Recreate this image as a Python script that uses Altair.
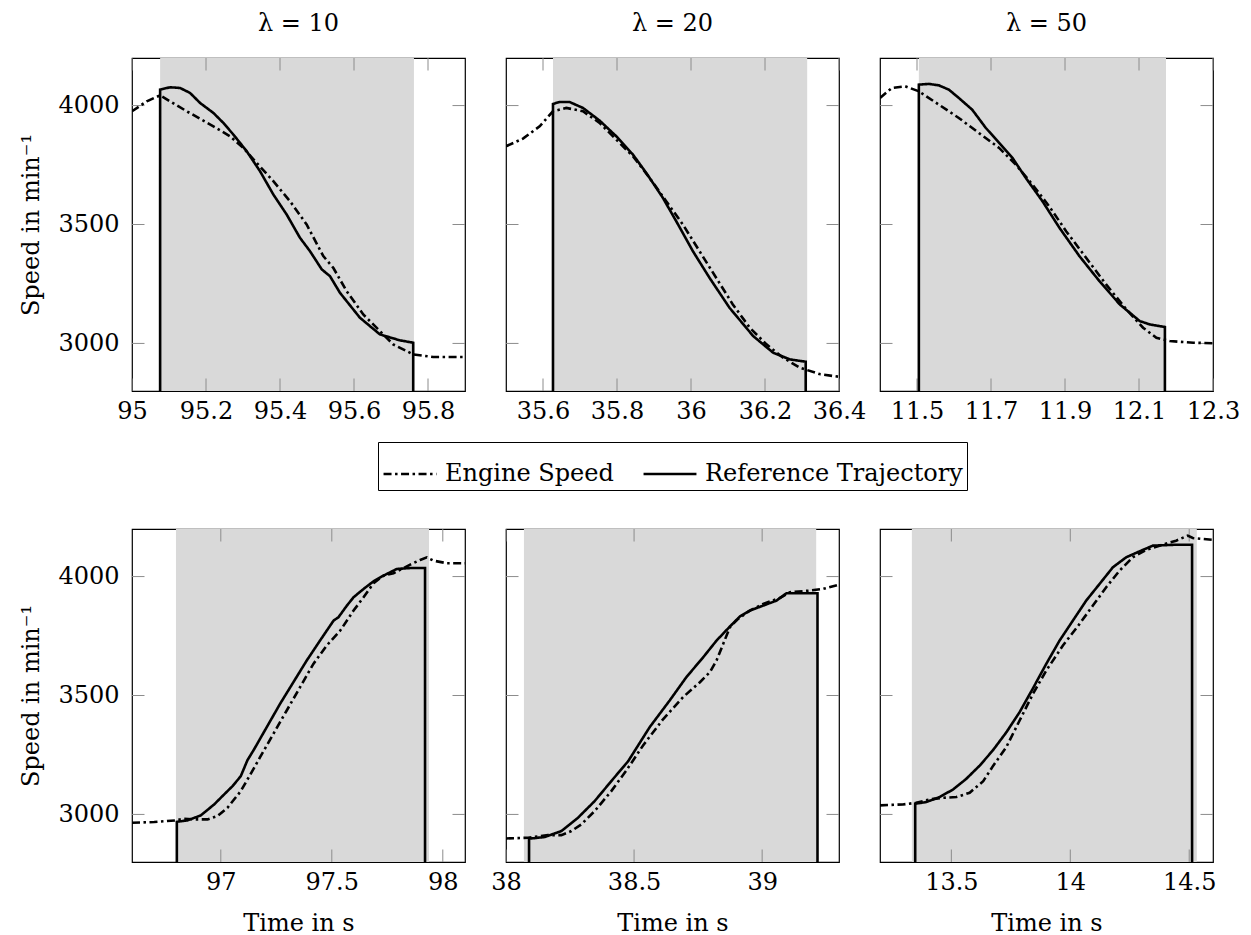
import altair as alt
import pandas as pd

FONT = "DejaVu Serif"
FS = 24
W = 333
H = 333
TICK = 12.5

Y_DOMAIN = [2800, 4200]
Y_TICKS = [3000, 3500, 4000]
LAMBDAS = ["λ = 10", "λ = 20", "λ = 50"]
SERIES = ["Engine Speed", "Reference Trajectory"]

X_DOMAINS = [[95.0, 95.9], [35.5, 36.4], [11.4, 12.3], [96.6, 98.1], [38.0, 39.3], [13.2, 14.6]]
X_TICKS = [[95, 95.2, 95.4, 95.6, 95.8], [35.6, 35.8, 36, 36.2, 36.4], [11.5, 11.7, 11.9, 12.1, 12.3],
           [97, 97.5, 98], [38, 38.5, 39], [13.5, 14, 14.5]]
SHADE = [[95.076, 95.762], [35.627, 36.314], [11.505, 12.173], [96.798, 97.938], [38.07, 39.211], [13.334, 14.532]]

# ---- panel 1 (lambda = 10, deceleration)
es1_t = [95.0, 95.04, 95.076, 95.148, 95.22, 95.265, 95.301, 95.337, 95.382, 95.427, 95.472, 95.517, 95.544,
         95.58, 95.625, 95.67, 95.706, 95.76, 95.814, 95.9]
es1_v = [3976, 4018, 4043, 3976, 3913, 3871, 3822, 3759, 3682, 3598, 3500, 3367, 3318,
         3220, 3122, 3052, 2996, 2954, 2943, 2943]
rf1_t = [95.076, 95.076, 95.103, 95.13, 95.157, 95.184, 95.22, 95.247, 95.274, 95.31, 95.346, 95.382, 95.418,
         95.454, 95.481, 95.513, 95.535, 95.562, 95.616, 95.67, 95.724, 95.76, 95.76]
rf1_v = [0, 4067, 4077, 4074, 4053, 4011, 3969, 3927, 3878, 3808, 3724, 3626, 3542,
         3444, 3388, 3311, 3283, 3213, 3108, 3038, 3013, 3003, 0]

# ---- panel 2 (lambda = 20, deceleration)
es2_t = [35.5, 35.546, 35.591, 35.627, 35.663, 35.708, 35.753, 35.798, 35.843, 35.888, 35.933, 35.978, 36.023,
         36.068, 36.113, 36.159, 36.204, 36.249, 36.294, 36.35, 36.4]
es2_v = [3829, 3861, 3913, 3976, 3990, 3976, 3927, 3857, 3787, 3696, 3598, 3500, 3388,
         3276, 3164, 3066, 2996, 2940, 2898, 2870, 2860]
rf2_t = [35.627, 35.627, 35.645, 35.672, 35.708, 35.753, 35.798, 35.843, 35.879, 35.924, 35.96, 36.005, 36.05,
         36.104, 36.168, 36.222, 36.267, 36.31, 36.31]
rf2_v = [0, 4007, 4015, 4015, 3990, 3937, 3871, 3794, 3717, 3612, 3514, 3388, 3276,
         3150, 3031, 2961, 2933, 2923, 0]

# ---- panel 3 (lambda = 50, deceleration)
es3_t = [11.4, 11.432, 11.468, 11.505, 11.559, 11.613, 11.667, 11.722, 11.767, 11.812, 11.857, 11.903, 11.957,
         12.011, 12.066, 12.111, 12.147, 12.183, 12.247, 12.3]
es3_v = [4032, 4074, 4081, 4060, 4004, 3948, 3885, 3822, 3752, 3668, 3577, 3472, 3360,
         3248, 3143, 3066, 3024, 3010, 3003, 3001]
rf3_t = [11.505, 11.505, 11.532, 11.559, 11.586, 11.613, 11.649, 11.686, 11.722, 11.758, 11.794, 11.839, 11.885,
         11.939, 11.993, 12.048, 12.102, 12.129, 12.17, 12.17]
rf3_v = [0, 4088, 4091, 4085, 4067, 4032, 3983, 3906, 3843, 3780, 3696, 3598, 3486,
         3367, 3262, 3164, 3094, 3080, 3069, 0]

# ---- panel 4 (lambda = 10, acceleration)
es4_t = [96.6, 96.7, 96.797, 96.835, 96.88, 96.94, 96.985, 97.03, 97.09, 97.15, 97.177, 97.237, 97.297, 97.357,
         97.417, 97.477, 97.538, 97.598, 97.643, 97.688, 97.733, 97.778, 97.853, 97.898, 97.928, 97.958, 98.018, 98.1]
es4_v = [2965, 2968, 2975, 2982, 2979, 2979, 2993, 3028, 3098, 3196, 3241, 3339, 3437, 3535,
         3633, 3710, 3773, 3857, 3913, 3972, 4004, 4014, 4050, 4070, 4081, 4067, 4056, 4056]
rf4_t = [96.802, 96.802, 96.85, 96.91, 96.97, 97.03, 97.053, 97.09, 97.12, 97.147, 97.207, 97.267, 97.327, 97.387,
         97.447, 97.508, 97.53, 97.568, 97.598, 97.643, 97.688, 97.733, 97.793, 97.853, 97.92, 97.92]
rf4_v = [0, 2969, 2975, 2996, 3042, 3098, 3119, 3161, 3228, 3269, 3367, 3465, 3556, 3647,
         3731, 3815, 3829, 3878, 3913, 3948, 3980, 4004, 4032, 4036, 4036, 0]

# ---- panel 5 (lambda = 20, acceleration)
es5_t = [38.0, 38.086, 38.164, 38.216, 38.255, 38.294, 38.346, 38.411, 38.47, 38.535, 38.613, 38.691, 38.757,
         38.796, 38.822, 38.848, 38.874, 38.906, 38.952, 39.004, 39.069, 39.108, 39.186, 39.238, 39.3]
es5_v = [2899, 2902, 2913, 2913, 2930, 2958, 3014, 3098, 3185, 3290, 3400, 3493, 3556,
         3598, 3647, 3717, 3787, 3822, 3857, 3885, 3910, 3934, 3941, 3948, 3966]
rf5_t = [38.09, 38.09, 38.151, 38.216, 38.281, 38.346, 38.411, 38.477, 38.561, 38.639, 38.704, 38.77, 38.822,
         38.874, 38.913, 38.952, 39.004, 39.056, 39.095, 39.16, 39.216, 39.216]
rf5_v = [0, 2898, 2905, 2930, 2986, 3056, 3140, 3224, 3367, 3479, 3577, 3661, 3731,
         3790, 3832, 3857, 3878, 3899, 3930, 3930, 3930, 0]

# ---- panel 6 (lambda = 50, acceleration)
es6_t = [13.2, 13.296, 13.352, 13.408, 13.465, 13.521, 13.577, 13.634, 13.676, 13.731, 13.787, 13.843, 13.899,
         13.969, 14.039, 14.095, 14.151, 14.207, 14.263, 14.319, 14.375, 14.445, 14.494, 14.515, 14.6]
es6_v = [3038, 3042, 3049, 3063, 3070, 3073, 3091, 3140, 3205, 3283, 3395, 3507, 3605,
         3710, 3801, 3878, 3955, 4025, 4081, 4112, 4130, 4151, 4172, 4162, 4154]
rf6_t = [13.348, 13.348, 13.394, 13.451, 13.507, 13.563, 13.619, 13.675, 13.731, 13.787, 13.843, 13.899, 13.955,
         14.011, 14.067, 14.123, 14.179, 14.235, 14.291, 14.347, 14.445, 14.512, 14.512]
rf6_v = [0, 3045, 3052, 3073, 3105, 3150, 3205, 3270, 3345, 3430, 3530, 3633, 3731,
         3815, 3899, 3969, 4039, 4081, 4106, 4130, 4134, 4134, 0]

ENGINE = [(es1_t, es1_v), (es2_t, es2_v), (es3_t, es3_v), (es4_t, es4_v), (es5_t, es5_v), (es6_t, es6_v)]
REFERENCE = [(rf1_t, rf1_v), (rf2_t, rf2_v), (rf3_t, rf3_v), (rf4_t, rf4_v), (rf5_t, rf5_v), (rf6_t, rf6_v)]

dash_scale = alt.Scale(domain=SERIES, range=[[8, 3.5, 2.5, 3.5], [1, 0]])


def line_frame(k):
    rows = []
    for name, (ts, vs) in ((SERIES[0], ENGINE[k]), (SERIES[1], REFERENCE[k])):
        for i, (t, v) in enumerate(zip(ts, vs)):
            rows.append({"t": t, "v": v, "series": name, "i": i})
    return pd.DataFrame(rows)


def panel(k):
    row, col = divmod(k, 3)
    xs = alt.Scale(domain=X_DOMAINS[k], nice=False, zero=False)
    ys = alt.Scale(domain=Y_DOMAIN, nice=False, zero=False)

    xaxis_kw = dict(values=X_TICKS[k], format="~g", ticks=False, domain=False, grid=False,
                    labelOverlap=False, labelFlush=False)
    if row == 1:
        xaxis_kw["title"] = "Time in s"
    else:
        xaxis_kw["title"] = None
    xaxis = alt.Axis(**xaxis_kw)

    if col == 0:
        yaxis = alt.Axis(values=Y_TICKS, format="d", title="Speed in min⁻¹", ticks=False, domain=False,
                         grid=False, labelOverlap=False, labelFlush=False)
    else:
        yaxis = None

    shade_df = pd.DataFrame({"s": [SHADE[k][0]], "e": [SHADE[k][1]]})
    shade = alt.Chart(shade_df).mark_rect(color="#d9d9d9").encode(
        x=alt.X("s:Q", scale=xs, axis=xaxis), x2="e:Q")

    xt = pd.DataFrame({"t": X_TICKS[k]})
    yt = pd.DataFrame({"v": Y_TICKS})
    tick_style = dict(color="#8c8c8c", strokeWidth=1)
    xt_top = alt.Chart(xt).mark_rule(**tick_style).encode(
        x=alt.X("t:Q", scale=xs, axis=xaxis), y=alt.value(0), y2=alt.value(TICK))
    xt_bot = alt.Chart(xt).mark_rule(**tick_style).encode(
        x=alt.X("t:Q", scale=xs, axis=xaxis), y=alt.value(H - TICK), y2=alt.value(H))
    yt_left = alt.Chart(yt).mark_rule(**tick_style).encode(
        y=alt.Y("v:Q", scale=ys, axis=yaxis), x=alt.value(0), x2=alt.value(TICK))
    yt_right = alt.Chart(yt).mark_rule(**tick_style).encode(
        y=alt.Y("v:Q", scale=ys, axis=yaxis), x=alt.value(W - TICK), x2=alt.value(W))

    legend = alt.Legend(title=None, orient="none", legendX=246, legendY=384, direction="horizontal",
                        columns=2, symbolType="stroke", symbolSize=2800, symbolStrokeWidth=2.6,
                        symbolStrokeColor="black", labelFont=FONT, labelFontSize=FS, labelColor="black",
                        labelOffset=7, columnPadding=24, padding=4, strokeColor="black", fillColor="white",
                        labelLimit=400)

    lines = alt.Chart(line_frame(k)).mark_line(clip=True, color="black", strokeWidth=2.6).encode(
        x=alt.X("t:Q", scale=xs, axis=xaxis),
        y=alt.Y("v:Q", scale=ys, axis=yaxis),
        strokeDash=alt.StrokeDash("series:N", scale=dash_scale, legend=legend),
        order=alt.Order("i:Q"),
    )

    props = dict(width=W, height=H)
    if row == 0:
        props["title"] = alt.TitleParams(LAMBDAS[col], font=FONT, fontSize=FS, fontWeight="normal",
                                         color="black", baseline="bottom", offset=-2)
    return alt.layer(shade, xt_top, xt_bot, yt_left, yt_right, lines).properties(**props)


chart = alt.concat(*[panel(k) for k in range(6)], columns=3, spacing=alt.RowColnumber(row=138, column=41),
                   bounds="flush").properties(
    padding={"left": 19, "top": 10, "right": 5, "bottom": 5}
).configure_axis(
    labelFont=FONT, labelFontSize=FS, labelColor="black",
    titleFont=FONT, titleFontSize=FS, titleFontWeight="normal", titleColor="black",
).configure_axisX(labelPadding=8, titlePadding=17).configure_axisY(labelPadding=13, titlePadding=14).configure_view(
    stroke="black", strokeWidth=1.2
)

chart.save("out.html", embed_options={"renderer": "svg", "actions": False})
